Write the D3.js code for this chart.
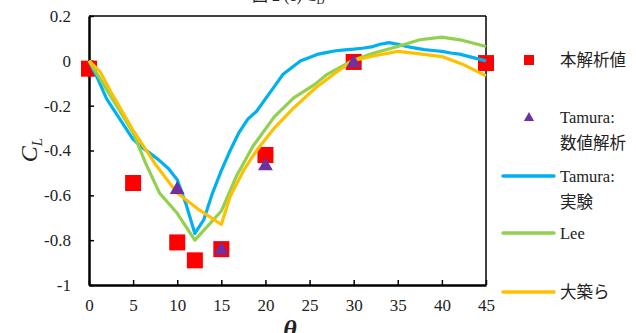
<!DOCTYPE html>
<html>
<head>
<meta charset="utf-8">
<script src="https://cdn.jsdelivr.net/npm/d3@7"></script>
<style>
  body { margin: 0; background: #fff; }
  text { font-family: "Liberation Serif", "DejaVu Serif", "Noto Sans CJK JP", serif; fill: #222; }
</style>
</head>
<body>
<div id="chart"></div>
<script>
// θ (deg) and C_L values
const presentTheta = [0, 5, 10, 12, 15, 20, 30, 45];
const presentCL = [-0.035, -0.545, -0.81, -0.89, -0.84, -0.42, -0.005, -0.01];

const tamuraNumTheta = [10, 15, 20, 30];
const tamuraNumCL = [-0.57, -0.84, -0.465, -0.005];

const tamuraExpTheta = [0, 1, 2, 3, 4, 5, 6, 7, 8, 9, 10, 11, 12, 13, 14, 15, 16, 17, 18, 19, 20, 21, 22, 23, 24, 25, 26, 27, 28, 29, 30, 31, 32, 33, 34, 35, 36, 37, 38, 39, 40, 41, 42, 43, 44, 45];
const tamuraExpCL = [0, -0.08, -0.17, -0.23, -0.29, -0.35, -0.385, -0.415, -0.445, -0.48, -0.53, -0.64, -0.77, -0.71, -0.59, -0.49, -0.4, -0.32, -0.26, -0.225, -0.17, -0.115, -0.06, -0.03, 0, 0.015, 0.03, 0.038, 0.045, 0.049, 0.052, 0.056, 0.062, 0.074, 0.081, 0.074, 0.064, 0.057, 0.05, 0.046, 0.042, 0.035, 0.03, 0.02, 0.01, 0];

const leeTheta = [0, 2.5, 5, 6.4, 8, 10, 12, 15, 16.7, 18.6, 21, 23.2, 25.6, 27, 30, 32.2, 35, 37.5, 40, 42.4, 45];
const leeCL = [0, -0.16, -0.32, -0.455, -0.59, -0.68, -0.8, -0.67, -0.515, -0.38, -0.25, -0.165, -0.105, -0.06, 0.004, 0.034, 0.064, 0.094, 0.106, 0.091, 0.064];

const otsukiTheta = [0, 1.25, 2.5, 5, 7.5, 10, 12.5, 15, 16, 17.5, 19, 21, 23.2, 25.7, 28, 30, 32.5, 35, 37.5, 40, 42.5, 45];
const otsukiCL = [0, -0.048, -0.14, -0.31, -0.46, -0.59, -0.665, -0.73, -0.605, -0.49, -0.4, -0.3, -0.21, -0.12, -0.052, 0.002, 0.024, 0.042, 0.031, 0.019, -0.018, -0.067];

const xTicks = [0, 5, 10, 15, 20, 25, 30, 35, 40, 45];
const yTicks = [-1, -0.8, -0.6, -0.4, -0.2, 0, 0.2];

const legendLabels = [["本解析値"], ["Tamura:", "数値解析"], ["Tamura:", "実験"], ["Lee"], ["大築ら"]];

const colors = { present: "#ff0000", tamuraNum: "#7030a0", tamuraExp: "#00b0f0", lee: "#92d050", otsuki: "#ffc000" };

const W = 636, H = 333;
const plot = { left: 89, right: 486, top: 16, bottom: 285 };
const serif = '"Liberation Serif", "DejaVu Serif", "Noto Sans CJK JP", serif';

const svg = d3.select("#chart").append("svg")
  .attr("width", W).attr("height", H);

const x = d3.scaleLinear().domain([0, 45]).range([plot.left, plot.right]);
const y = d3.scaleLinear().domain([-1, 0.2]).range([plot.bottom, plot.top]);

// title, cut off at the top edge as in the source
svg.append("text")
  .attr("x", 252).attr("y", 1)
  .style("font-size", "16px")
  .text("図 2 (c) C")
  .append("tspan").attr("dy", 3).style("font-size", "11px").text("D");

// frame: top and right thin
svg.append("line").attr("x1", plot.left).attr("x2", plot.right).attr("y1", plot.top).attr("y2", plot.top)
  .attr("stroke", "#000").attr("stroke-width", 1.5);
svg.append("line").attr("x1", plot.right).attr("x2", plot.right).attr("y1", plot.top).attr("y2", plot.bottom)
  .attr("stroke", "#000").attr("stroke-width", 1.5);

// axes
const fmt = d => String(+d.toFixed(1));

const xAxis = svg.append("g")
  .attr("transform", `translate(0,${plot.bottom})`)
  .call(d3.axisBottom(x).tickValues(xTicks).tickFormat(fmt).tickSizeInner(-5).tickSizeOuter(0).tickPadding(14));
xAxis.attr("font-family", serif);
xAxis.select(".domain").attr("stroke-width", 2.5);
xAxis.selectAll(".tick line").attr("stroke-width", 1.5);
xAxis.selectAll("text").style("font-size", "17px").style("font-family", serif).attr("fill", "#222");

const yAxis = svg.append("g")
  .attr("transform", `translate(${plot.left},0)`)
  .call(d3.axisLeft(y).tickValues(yTicks).tickFormat(fmt).tickSizeInner(-5).tickSizeOuter(0).tickPadding(18));
yAxis.attr("font-family", serif);
yAxis.select(".domain").attr("stroke-width", 2.5);
yAxis.selectAll(".tick line").attr("stroke-width", 1.5);
yAxis.selectAll("text").style("font-size", "17px").style("font-family", serif).attr("fill", "#222");

// axis titles
const yTitle = svg.append("text")
  .attr("transform", "translate(37,150) rotate(-90)")
  .attr("text-anchor", "middle")
  .style("font-size", "24px").style("font-style", "italic");
yTitle.append("tspan").text("C");
yTitle.append("tspan").attr("dy", 5).style("font-size", "15px").text("L");

svg.append("text")
  .attr("x", 290).attr("y", 338)
  .attr("text-anchor", "middle")
  .style("font-size", "26px").style("font-style", "italic").style("font-weight", "bold")
  .text("θ");

// squares: present analysis
const sq = 16;
svg.append("g").selectAll("rect")
  .data(d3.zip(presentTheta, presentCL))
  .join("rect")
  .attr("x", d => x(d[0]) - sq / 2)
  .attr("y", d => y(d[1]) - sq / 2)
  .attr("width", sq).attr("height", sq)
  .attr("fill", colors.present);

// lines
const line = d3.line().x(d => x(d[0])).y(d => y(d[1]));
const series = [
  { th: tamuraExpTheta, cl: tamuraExpCL, color: colors.tamuraExp },
  { th: leeTheta, cl: leeCL, color: colors.lee },
  { th: otsukiTheta, cl: otsukiCL, color: colors.otsuki }
];
svg.append("g").selectAll("path")
  .data(series)
  .join("path")
  .attr("d", s => line(d3.zip(s.th, s.cl)))
  .attr("fill", "none")
  .attr("stroke", s => s.color)
  .attr("stroke-width", 3.2)
  .attr("stroke-linejoin", "round");

// triangles: Tamura numerical
const tri = d3.symbol().type(d3.symbolTriangle).size(95);
svg.append("g").selectAll("path")
  .data(d3.zip(tamuraNumTheta, tamuraNumCL))
  .join("path")
  .attr("d", tri)
  .attr("transform", d => `translate(${x(d[0])},${y(d[1]) + 1})`)
  .attr("fill", colors.tamuraNum);

// legend
const lx = 529, tx = 560;
const leg = svg.append("g");
const legY = [60, 117, 176, 233, 292];

leg.append("rect").attr("x", lx - 5).attr("y", legY[0] - 5).attr("width", 10).attr("height", 10).attr("fill", colors.present);
leg.append("path").attr("d", d3.symbol().type(d3.symbolTriangle).size(45)())
  .attr("transform", `translate(${lx},${legY[1] + 1})`).attr("fill", colors.tamuraNum);
[colors.tamuraExp, colors.lee, colors.otsuki].forEach((c, i) => {
  leg.append("line")
    .attr("x1", 503).attr("x2", 554)
    .attr("y1", legY[i + 2]).attr("y2", legY[i + 2])
    .attr("stroke", c).attr("stroke-width", 3.5).attr("stroke-linecap", "round");
});

legendLabels.forEach((lines, i) => {
  const t = leg.append("text")
    .attr("x", tx).attr("y", legY[i] + 6)
    .style("font-size", "16.5px");
  lines.forEach((s, j) => {
    t.append("tspan").attr("x", tx).attr("dy", j === 0 ? 0 : 26).text(s);
  });
});
</script>
</body>
</html>
